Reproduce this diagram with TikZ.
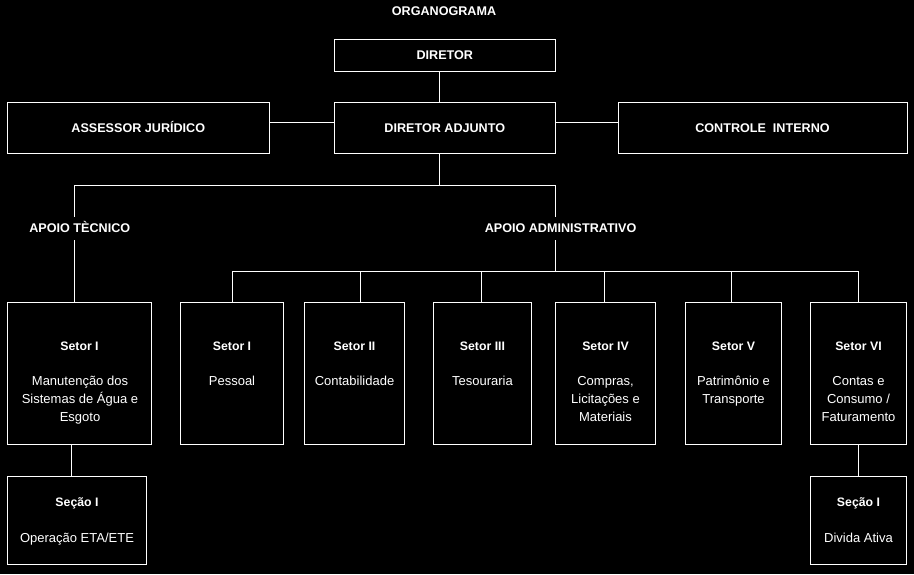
\documentclass[tikz,border=0pt]{standalone}
\usepackage{fontspec}
\setmainfont{Liberation Sans}
\begin{document}
\begin{tikzpicture}[x=1pt,y=-1pt,
  box/.style={draw=white, line width=1pt, fill=black, rectangle, inner sep=0pt},
  topbox/.style={box, text=white, font=\fontsize{12.6}{15}\selectfont\bfseries, text height=9.3pt, text depth=0pt},
  conn/.style={draw=white, line width=1pt},
  hd/.style={text=white, font=\fontsize{12.6}{15}\selectfont\bfseries, anchor=base, inner sep=0pt},
  lab/.style={text=white, font=\fontsize{12.6}{15}\selectfont\bfseries, anchor=base, inner xsep=0pt, inner ysep=6.4pt, text height=9.3pt, text depth=0.9pt},
  sh/.style={text=white, font=\fontsize{12.3}{15}\selectfont\bfseries, anchor=base, inner sep=0pt},
  tx/.style={text=white, font=\fontsize{13}{18}\selectfont, anchor=base, inner sep=0pt}
]
\fill[black] (0,0) rectangle (914,574);
\useasboundingbox (0,0) rectangle (914,574);

% title
\node[hd] (title) at (444,15) {ORGANOGRAMA};

% top boxes
\node[topbox, minimum width=221pt, minimum height=32pt] (dir) at (444.8,55.3) {DIRETOR};
\node[topbox, minimum width=221pt, minimum height=51.4pt] (adj) at (444.8,128) {DIRETOR ADJUNTO};
\node[topbox, minimum width=261.4pt, minimum height=51.4pt] (ass) at (138.3,128) {ASSESSOR JURÍDICO};
\node[topbox, minimum width=289pt, minimum height=51.4pt] (ctl) at (762.5,128) {CONTROLE\ \ INTERNO};

% group labels
\node[lab] (labT) at (79.8,232.7) {APOIO TÈCNICO};
\node[lab] (labA) at (560.6,232.7) {APOIO ADMINISTRATIVO};

% sector boxes
\node[box, minimum width=144.4pt, minimum height=142pt] (t1) at (79.5,373.3) {};
\node[box, minimum width=103.4pt, minimum height=142pt] (s1) at (232,373.3) {};
\node[box, minimum width=100.4pt, minimum height=142pt] (s2) at (354.5,373.3) {};
\node[box, minimum width=98.4pt, minimum height=142pt] (s3) at (482.5,373.3) {};
\node[box, minimum width=100.4pt, minimum height=142pt] (s4) at (605.5,373.3) {};
\node[box, minimum width=96.4pt, minimum height=142pt] (s5) at (733.5,373.3) {};
\node[box, minimum width=96.4pt, minimum height=142pt] (s6) at (858.5,373.3) {};
\node[box, minimum width=139.4pt, minimum height=88pt] (c1) at (77,520.3) {};
\node[box, minimum width=96.4pt, minimum height=88pt] (c2) at (858.5,520.3) {};

% texts in sector boxes
\node[sh] (t1h) at (79.5,350.3) {Setor I};
\node[tx] (t1a) at (80,385.3) {Manutenção dos};
\node[tx] (t1b) at (80,403.3) {Sistemas de Água e};
\node[tx] (t1c) at (80,421.3) {Esgoto};

\node[sh] (s1h) at (232,350.3) {Setor I};
\node[tx] (s1a) at (232,385.3) {Pessoal};

\node[sh] (s2h) at (354.5,350.3) {Setor II};
\node[tx] (s2a) at (354.5,385.3) {Contabilidade};

\node[sh] (s3h) at (482.5,350.3) {Setor III};
\node[tx] (s3a) at (482.5,385.3) {Tesouraria};

\node[sh] (s4h) at (605.5,350.3) {Setor IV};
\node[tx] (s4a) at (605.5,385.3) {Compras,};
\node[tx] (s4b) at (605.5,403.3) {Licitações e};
\node[tx] (s4c) at (605.5,421.3) {Materiais};

\node[sh] (s5h) at (733.5,350.3) {Setor V};
\node[tx] (s5a) at (733.5,385.3) {Patrimônio e};
\node[tx] (s5b) at (733.5,403.3) {Transporte};

\node[sh] (s6h) at (858.5,350.3) {Setor VI};
\node[tx] (s6a) at (858.5,385.3) {Contas e};
\node[tx] (s6b) at (858.5,403.3) {Consumo /};
\node[tx] (s6c) at (858.5,421.3) {Faturamento};

\node[sh] (c1h) at (77,506) {Seção I};
\node[tx] (c1a) at (77,542.3) {Operação ETA/ETE};

\node[sh] (c2h) at (858.5,506) {Seção I};
\node[tx] (c2a) at (858.5,542.3) {Divida Ativa};

% connector coordinates
\coordinate (jt) at (439.4,185);
\coordinate (hl) at (0,122.5);
\coordinate (jl) at (74.6,185);
\coordinate (jr) at (555.4,185);
\coordinate (ja) at (555.4,271);
\coordinate (d1) at (232.3,271);
\coordinate (d2) at (360.3,271);
\coordinate (d3) at (481.3,271);
\coordinate (d4) at (604.3,271);
\coordinate (d5) at (731.7,271);
\coordinate (d6) at (858.5,271);
\coordinate (bl) at (71.3,0);

% connectors
\draw[conn] (dir.south -| jt) -- (adj.north -| jt);
\draw[conn] (ass.east |- hl) -- (adj.west |- hl);
\draw[conn] (adj.east |- hl) -- (ctl.west |- hl);
\draw[conn] (adj.south -| jt) -- (jt);
\draw[conn] (labT.north -| jl) |- (jr) -- (labA.north -| jr);
\draw[conn] (labT.south -| jl) -- (t1.north -| jl);
\draw[conn] (labA.south -| jr) -- (ja);
\draw[conn] (s1.north -| d1) -- (d1) -- (d6) -- (s6.north -| d6);
\draw[conn] (d2) -- (s2.north -| d2);
\draw[conn] (d3) -- (s3.north -| d3);
\draw[conn] (d4) -- (s4.north -| d4);
\draw[conn] (d5) -- (s5.north -| d5);
\draw[conn] (t1.south -| bl) -- (c1.north -| bl);
\draw[conn] (s6.south) -- (c2.north);
\end{tikzpicture}
\end{document}
